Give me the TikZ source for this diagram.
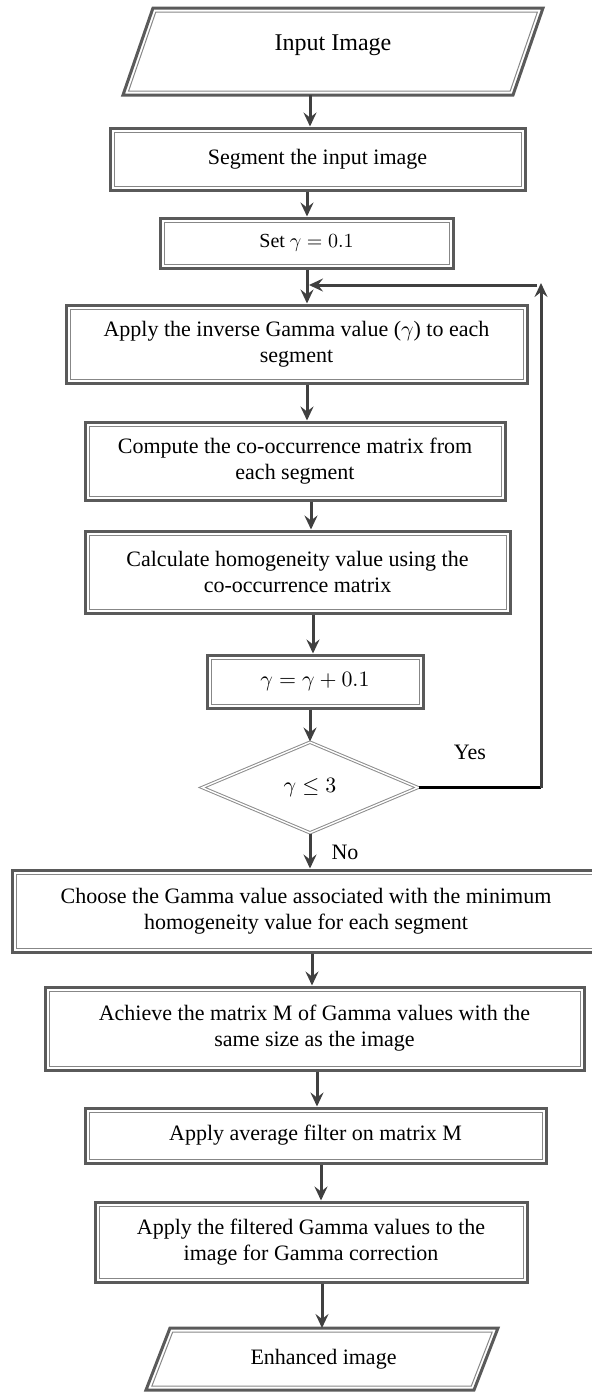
\documentclass[tikz,border=0pt]{standalone}
\usepackage{fontspec}
\setmainfont{Liberation Serif}
\usetikzlibrary{arrows.meta}
\usetikzlibrary{shapes.geometric}
\definecolor{framegray}{RGB}{90,90,90}
\definecolor{innergray}{RGB}{135,135,135}
\definecolor{arrowgray}{RGB}{64,64,64}
\definecolor{diagray}{RGB}{140,140,140}

\begin{document}
\begin{tikzpicture}[x=0.5pt,y=-0.5pt,
  box/.style={draw=framegray,line width=1.5pt,fill=white,inner sep=0pt,align=center,
    font=\fontsize{11}{13}\selectfont,
    path picture={\draw[innergray,line width=0.5pt] ([shift={(2pt,-2pt)}]path picture bounding box.north west) rectangle ([shift={(-2pt,2pt)}]path picture bounding box.south east);}},
  decision/.style={diamond,draw=diagray,double=white,double distance=0.7pt,line width=0.5pt,
    inner sep=0pt,font=\fontsize{11}{13}\selectfont},
  arr/.style={draw=arrowgray,line width=1.5pt,-{Stealth[length=7pt,width=6.5pt,inset=2.5pt]}},
  lbl/.style={inner sep=0pt,font=\fontsize{11}{13}\selectfont}]
\useasboundingbox (0,0) rectangle (592,1393);

%Input / output shapes
\draw [draw=framegray,line width=1.5pt] (153,8) -- (543,8) -- (513,95) -- (123,95) -- cycle ;
\draw [draw=innergray,line width=0.5pt] (155.8,12) -- (537.4,12) -- (510.2,91) -- (128.6,91) -- cycle ;
\node [lbl,font=\fontsize{12}{14}\selectfont] (in) at (333,45) {Input Image};
\coordinate (inb) at (310,95);

\draw [draw=framegray,line width=1.5pt] (170,1328) -- (498,1328) -- (474,1390) -- (146,1390) -- cycle ;
\draw [draw=innergray,line width=0.5pt] (172.7,1332) -- (492.2,1332) -- (471.3,1386) -- (151.9,1386) -- cycle ;
\node [lbl] (enh) at (323.5,1359) {Enhanced image};
\coordinate (enht) at (322,1328);

%Process boxes
\node [box,minimum width=207.5pt,minimum height=31pt] (seg) at (317.5,159) {Segment the input image};
\node [box,minimum width=146.5pt,minimum height=25pt,font=\fontsize{10}{12}\selectfont] (set) at (306.5,243) {Set $\gamma = 0.1$};
\node [box,minimum width=230.5pt,minimum height=39pt] (app) at (296.5,344) {Apply the inverse Gamma value ($\gamma$) to each\\segment};
\node [box,minimum width=210pt,minimum height=39pt] (comp) at (295,461) {Compute the co-occurrence matrix from\\each segment};
\node [box,minimum width=212.5pt,minimum height=41pt] (calc) at (297.5,572) {Calculate homogeneity value using the\\co-occurrence matrix};
\node [box,minimum width=108pt,minimum height=26.5pt] (inc) at (315,681.5) {$\gamma = \gamma + 0.1$};
\node [decision,minimum width=108pt,minimum height=45.5pt] (dia) at (310,787.5) {$\gamma \leq 3$};
\node [box,minimum width=294pt,minimum height=41pt] (choose) at (306,911) {Choose the Gamma value associated with the minimum\\homogeneity value for each segment};
\node [box,minimum width=269.5pt,minimum height=41.5pt] (ach) at (314.5,1028.5) {Achieve the matrix M of Gamma values with the\\same size as the image};
\node [box,minimum width=230.5pt,minimum height=27.5pt] (avg) at (315.5,1135.5) {Apply average filter on matrix M};
\node [box,minimum width=216pt,minimum height=40pt] (filt) at (311,1242) {Apply the filtered Gamma values to the\\image for Gamma correction};

%Connectors
\draw [arr] (inb) -- (inb |- seg.north) ;
\draw [arr] (seg.south -| 307,0) -- (set.north -| 307,0) ;
\draw [arr] (set.south -| 307,0) -- (app.north -| 307,0) ;
\draw [arr] (app.south -| 307,0) -- (comp.north -| 307,0) ;
\draw [arr] (comp.south -| 311,0) -- (calc.north -| 311,0) ;
\draw [arr] (calc.south -| 313,0) -- (inc.north -| 313,0) ;
\draw [arr] (inc.south -| dia.north) -- (dia.north) ;
\draw [arr] (dia.south) -- (dia.south |- choose.north) ;
\draw [arr] (choose.south -| 312,0) -- (ach.north -| 312,0) ;
\draw [arr] (ach.south -| 317,0) -- (avg.north -| 317,0) ;
\draw [arr] (avg.south -| 321,0) -- (filt.north -| 321,0) ;
\draw [arr] (filt.south -| enht) -- (enht) ;

%Loop back
\coordinate (yc) at (541,787.5);
\coordinate (ytop) at (541,283);
\coordinate (fb) at (537,285);
\coordinate (fbend) at (309,285);
\draw [black,line width=1.5pt] (dia.east) -- (yc) ;
\draw [arr] (yc) -- (ytop) ;
\draw [arr] (fb) -- (fbend) ;

% Text Node
\node [lbl] (yes) at (470,752) {Yes};
% Text Node
\node [lbl] (no) at (345,852) {No};

\end{tikzpicture}
\end{document}
